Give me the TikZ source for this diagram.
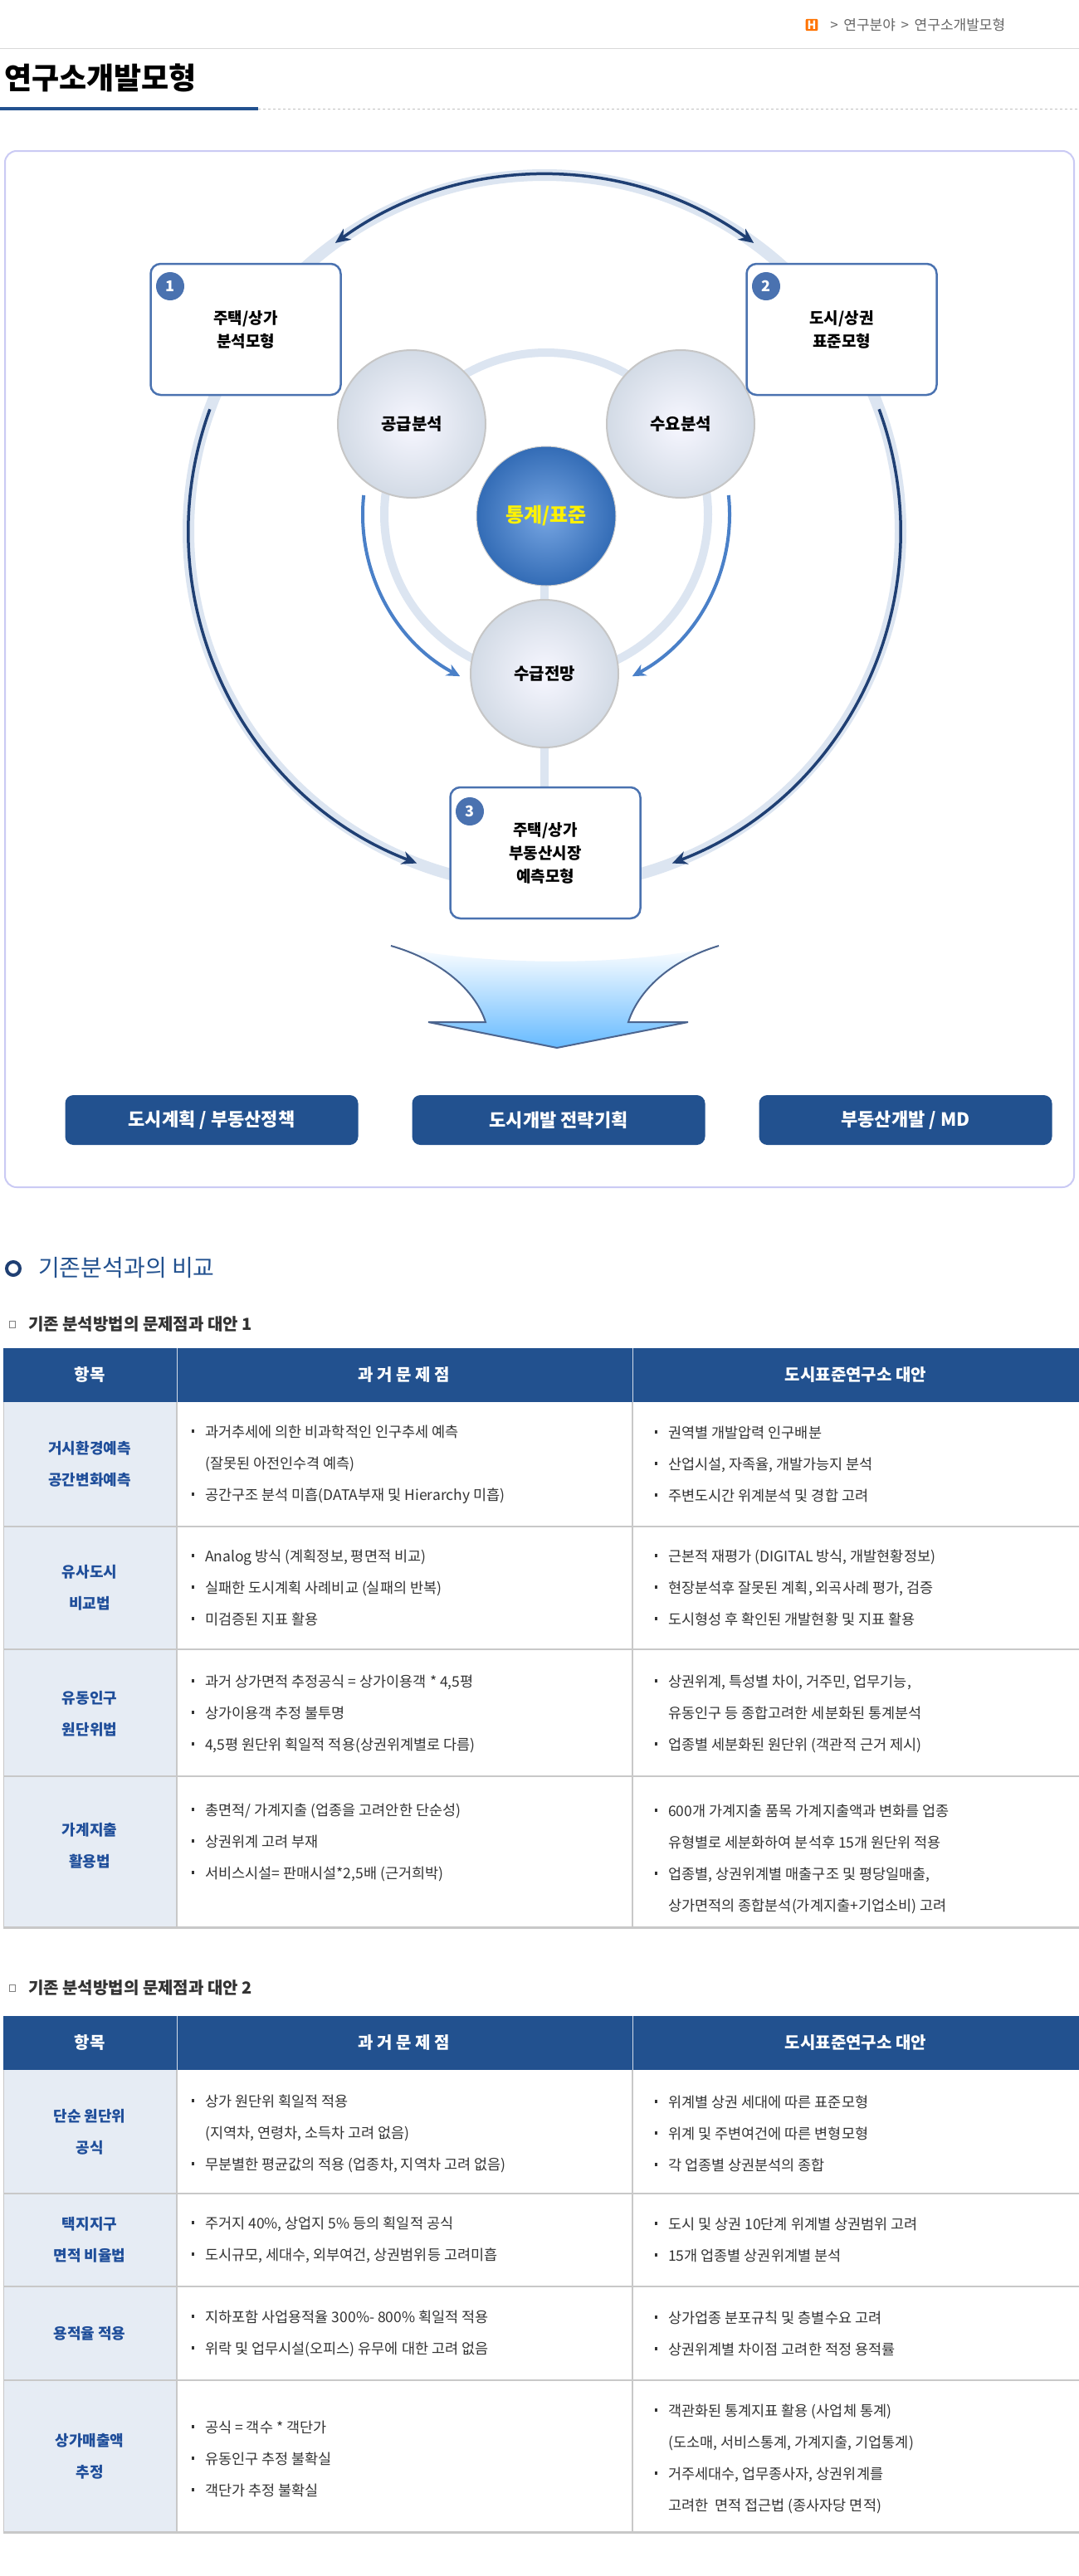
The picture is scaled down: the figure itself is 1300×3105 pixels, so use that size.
\documentclass[tikz,border=0pt]{standalone}
\usepackage{fontspec}
\setmainfont{Noto Sans CJK KR}
\usetikzlibrary{arrows.meta,shadings}
\definecolor{navy}{HTML}{1F3F73}
\definecolor{hdr}{HTML}{22518F}
\definecolor{pale}{HTML}{DCE5F1}
\definecolor{midblue}{HTML}{4A80C8}
\definecolor{boxline}{HTML}{4A72B0}
\definecolor{col1}{HTML}{E6ECF4}
\definecolor{grid}{HTML}{C8C8C8}
\definecolor{txt}{HTML}{333333}
\definecolor{catblue}{HTML}{1F4E9A}
\definecolor{ballblue}{HTML}{3C7FD6}
\newcommand{\bl}{\makebox[16pt][l]{\rule[0.3em]{3pt}{4pt}}}
\newcommand{\ct}{\hspace*{16pt}}
\tikzset{
  modelbox/.style={draw=boxline,line width=2.5pt,fill=white,rounded corners=12pt,minimum width=229pt,minimum height=158pt,align=center,font=\fontsize{19}{28}\selectfont\bfseries},
  numdot/.style={circle,fill=boxline,text=white,minimum size=34pt,inner sep=0pt,font=\fontsize{18}{18}\selectfont\bfseries},
  graycirc/.style={circle,draw=gray!45,line width=2pt,inner color=white!92!blue!40,outer color=pale!90!gray,minimum size=178pt,font=\fontsize{20}{20}\selectfont\bfseries},
  btn/.style={rounded corners=10pt,fill=hdr,text=white,minimum width=353pt,minimum height=60pt,font=\fontsize{22}{22}\selectfont\bfseries},
  darkarc/.style={draw=navy,line width=3.5pt},
  celltext/.style={anchor=west,align=left,text=txt,font=\fontsize{17.5}{38}\selectfont,inner sep=0pt},
  cattext/.style={align=center,text=catblue,font=\fontsize{18}{38}\selectfont\bfseries,inner sep=0pt},
  hdrtext/.style={text=white,font=\fontsize{20}{20}\selectfont\bfseries},
}
\begin{document}
\begin{tikzpicture}[x=1pt,y=-1pt]
\useasboundingbox (0,0) rectangle (1300,3105);
\fill[white] (0,0) rectangle (1300,3105);
% header
\draw[gray!30,line width=1pt] (0,58) -- (1300,58);
\node[fill=orange!90!red,text=white,rounded corners=2pt,inner sep=2pt,font=\fontsize{14}{14}\selectfont\bfseries] (hicon) at (978,30) {H};
\node[anchor=west,text=gray!80!black,font=\fontsize{17}{17}\selectfont] (crumb) at (994,30) {\,>\, 연구분야 \,>\, 연구소개발모형};
\node[anchor=west,font=\fontsize{36}{36}\selectfont\bfseries,inner sep=0pt] (title) at (5,94) {연구소개발모형};
\draw[hdr,line width=4pt] (0,131) -- (311,131);
\draw[gray!50,dashed,line width=1pt] (311,131) -- (1300,131);
% frame
\draw[gray!35!blue!25,line width=2pt,rounded corners=14pt] (6,182) rectangle (1294,1431);
% pale rings
\draw[pale,line width=14pt] (656,640) circle[radius=429];
\draw[pale,line width=10pt] (658,620) circle[radius=195];
\draw[pale,line width=10pt] (656,622) -- (656,950);
% dark arcs
\draw[darkarc,{Stealth[length=18pt,width=16pt]}-{Stealth[length=18pt,width=16pt]}] ({656+429*cos(126)},{640-429*sin(126)}) arc[start angle=-126,end angle=-54,radius=429];
\draw[darkarc,-{Stealth[length=18pt,width=16pt]}] ({656+429*cos(160)},{640-429*sin(160)}) arc[start angle=-160,end angle=-249,radius=429];
\draw[darkarc,-{Stealth[length=18pt,width=16pt]}] ({656+429*cos(20)},{640-429*sin(20)}) arc[start angle=-20,end angle=69,radius=429];
% inner blue arcs
\draw[midblue,line width=4pt,-{Stealth[length=16pt,width=15pt]}] ({658+221*cos(174)},{620-221*sin(174)}) arc[start angle=-174,end angle=-242,radius=221];
\draw[midblue,line width=4pt,-{Stealth[length=16pt,width=15pt]}] ({658+221*cos(6)},{620-221*sin(6)}) arc[start angle=-6,end angle=62,radius=221];
% circles
\node[graycirc] (supply) at (496,511) {공급분석};
\node[graycirc] (demand) at (820,511) {수요분석};
\node[graycirc] (outlook) at (656,812) {수급전망};
\node[circle,inner color=ballblue!70!white,outer color=ballblue!85!black,draw=gray!40,line width=1pt,minimum size=168pt,text=yellow,font=\fontsize{24}{24}\selectfont\bfseries] (stat) at (658,622) {통계/표준};
% boxes
\node[modelbox] (b1) at (296,397) {주택/상가\\분석모형};
\node[modelbox] (b2) at (1014,397) {도시/상권\\표준모형};
\node[modelbox] (b3) at (657,1028) {주택/상가\\부동산시장\\예측모형};
\node[numdot] (n1) at (205,345) {1};
\node[numdot] (n2) at (923,345) {2};
\node[numdot] (n3) at (566,978) {3};
% funnel
\shade[top color=white,bottom color=blue!45!cyan!60!white] (471,1140) .. controls (540,1160) and (575,1200) .. (585,1232) -- (516,1232) -- (671,1263) -- (829,1232) -- (757,1232) .. controls (767,1200) and (800,1160) .. (866,1140) .. controls (760,1165) and (580,1165) .. (471,1140) -- cycle;
\draw[navy!80,line width=2pt] (471,1140) .. controls (540,1160) and (575,1200) .. (585,1232) -- (516,1232) -- (671,1263) -- (829,1232) -- (757,1232) .. controls (767,1200) and (800,1160) .. (866,1140);
% buttons
\node[btn] (p1) at (255,1350) {도시계획 / 부동산정책};
\node[btn] (p2) at (673,1350) {도시개발 전략기획};
\node[btn] (p3) at (1091,1350) {부동산개발 / MD};
% section 2
\draw[navy,line width=4pt] (16,1529) circle[radius=8];
\node[anchor=west,text=hdr,font=\fontsize{28}{28}\selectfont,inner sep=0pt] (sec) at (46,1528) {기존분석과의 비교};
\draw[gray,line width=1pt] (11,1592) rectangle (18,1600);
\node[anchor=west,text=txt,font=\fontsize{20}{20}\selectfont\bfseries,inner sep=0pt] (sub1) at (34,1596) {기존 분석방법의 문제점과 대안 1};
\draw[gray,line width=1pt] (11,2392) rectangle (18,2400);
\node[anchor=west,text=txt,font=\fontsize{20}{20}\selectfont\bfseries,inner sep=0pt] (sub2) at (34,2396) {기존 분석방법의 문제점과 대안 2};
% table 1
\fill[hdr] (4,1625) rectangle (1300,1690);
\fill[col1] (4,1690) rectangle (213,2323);
\draw[white!80!hdr,line width=1pt] (213,1625) -- (213,1690) (762,1625) -- (762,1690);
\draw[grid,line width=1.5pt] (213,1690) -- (213,2323) (762,1690) -- (762,2323);
\draw[grid,line width=2pt] (4,1840) -- (1300,1840) (4,1988) -- (1300,1988) (4,2141) -- (1300,2141);
\draw[grid,line width=3pt] (4,2323) -- (1300,2323);
\draw[grid,line width=1pt] (4,1690) -- (4,2323);
\node[hdrtext] (h11) at (108,1657) {항목};
\node[hdrtext] (h12) at (487,1657) {과 거 문 제 점};
\node[hdrtext] (h13) at (1031,1657) {도시표준연구소 대안};
\node[cattext] (c11) at (108,1765) {거시환경예측\\공간변화예측};
\node[celltext] (l11) at (231,1765) {\bl 과거추세에 의한 비과학적인 인구추세 예측\\\ct (잘못된 아전인수격 예측)\\\bl 공간구조 분석 미흡(DATA부재 및 Hierarchy 미흡)};
\node[celltext] (r11) at (789,1765) {\bl 권역별 개발압력 인구배분\\\bl 산업시설, 자족율, 개발가능지 분석\\\bl 주변도시간 위계분석 및 경합 고려};
\node[cattext] (c12) at (108,1914) {유사도시\\비교법};
\node[celltext] (l12) at (231,1914) {\bl Analog 방식 (계획정보, 평면적 비교)\\\bl 실패한 도시계획 사례비교 (실패의 반복)\\\bl 미검증된 지표 활용};
\node[celltext] (r12) at (789,1914) {\bl 근본적 재평가 (DIGITAL 방식, 개발현황정보)\\\bl 현장분석후 잘못된 계획, 외곡사례 평가, 검증\\\bl 도시형성 후 확인된 개발현황 및 지표 활용};
\node[cattext] (c13) at (108,2066) {유동인구\\원단위법};
\node[celltext] (l13) at (231,2066) {\bl 과거 상가면적 추정공식 = 상가이용객 * 4,5평\\\bl 상가이용객 추정 불투명\\\bl 4,5평 원단위 획일적 적용(상권위계별로 다름)};
\node[celltext] (r13) at (789,2066) {\bl 상권위계, 특성별 차이, 거주민, 업무기능,\\\ct 유동인구 등 종합고려한 세분화된 통계분석\\\bl 업종별 세분화된 원단위 (객관적 근거 제시)};
\node[cattext] (c14) at (108,2225) {가계지출\\활용법};
\node[celltext] (l14) at (231,2221) {\bl 총면적/ 가계지출 (업종을 고려안한 단순성)\\\bl 상권위계 고려 부재\\\bl 서비스시설= 판매시설*2,5배 (근거희박)};
\node[celltext] (r14) at (789,2241) {\bl 600개 가계지출 품목 가계지출액과 변화를 업종\\\ct 유형별로 세분화하여 분석후 15개 원단위 적용\\\bl 업종별, 상권위계별 매출구조 및 평당일매출,\\\ct 상가면적의 종합분석(가계지출+기업소비) 고려};
% table 2
\fill[hdr] (4,2430) rectangle (1300,2495);
\fill[col1] (4,2495) rectangle (213,3052);
\draw[white!80!hdr,line width=1pt] (213,2430) -- (213,2495) (762,2430) -- (762,2495);
\draw[grid,line width=1.5pt] (213,2495) -- (213,3052) (762,2495) -- (762,3052);
\draw[grid,line width=2pt] (4,2644) -- (1300,2644) (4,2756) -- (1300,2756) (4,2869) -- (1300,2869);
\draw[grid,line width=3pt] (4,3052) -- (1300,3052);
\draw[grid,line width=1pt] (4,2495) -- (4,3052);
\node[hdrtext] (h21) at (108,2462) {항목};
\node[hdrtext] (h22) at (487,2462) {과 거 문 제 점};
\node[hdrtext] (h23) at (1031,2462) {도시표준연구소 대안};
\node[cattext] (c21) at (108,2570) {단순 원단위\\공식};
\node[celltext] (l21) at (231,2572) {\bl 상가 원단위 획일적 적용\\\ct (지역차, 연령차, 소득차 고려 없음)\\\bl 무분별한 평균값의 적용 (업종차, 지역차 고려 없음)};
\node[celltext] (r21) at (789,2572) {\bl 위계별 상권 세대에 따른 표준모형\\\bl 위계 및 주변여건에 따른 변형모형\\\bl 각 업종별 상권분석의 종합};
\node[cattext] (c22) at (108,2700) {택지지구\\면적 비율법};
\node[celltext] (l22) at (231,2700) {\bl 주거지 40\%, 상업지 5\% 등의 획일적 공식\\\bl 도시규모, 세대수, 외부여건, 상권범위등 고려미흡};
\node[celltext] (r22) at (789,2700) {\bl 도시 및 상권 10단계 위계별 상권범위 고려\\\bl 15개 업종별 상권위계별 분석};
\node[cattext] (c23) at (108,2813) {용적율 적용};
\node[celltext] (l23) at (231,2813) {\bl 지하포함 사업용적율 300\%- 800\% 획일적 적용\\\bl 위락 및 업무시설(오피스) 유무에 대한 고려 없음};
\node[celltext] (r23) at (789,2813) {\bl 상가업종 분포규칙 및 층별수요 고려\\\bl 상권위계별 차이점 고려한 적정 용적률};
\node[cattext] (c24) at (108,2961) {상가매출액\\추정};
\node[celltext] (l24) at (231,2964) {\bl 공식 = 객수 * 객단가\\\bl 유동인구 추정 불확실\\\bl 객단가 추정 불확실};
\node[celltext] (r24) at (789,2964) {\bl 객관화된 통계지표 활용 (사업체 통계)\\\ct (도소매, 서비스통계, 가계지출, 기업통계)\\\bl 거주세대수, 업무종사자, 상권위계를\\\ct 고려한 \ 면적 접근법 (종사자당 면적)};
\end{tikzpicture}
\end{document}
